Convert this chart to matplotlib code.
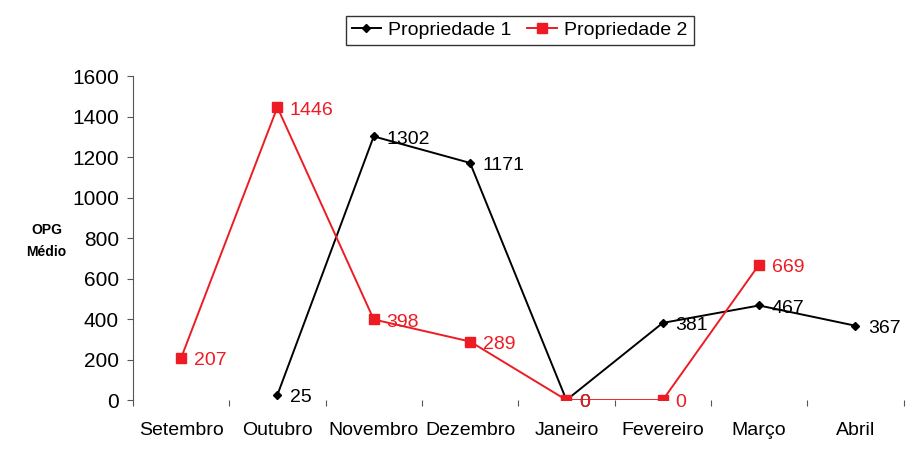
import numpy as np
import matplotlib.pyplot as plt

plt.rcParams['font.family'] = ['Liberation Sans', 'DejaVu Sans']

meses = ['Setembro', 'Outubro', 'Novembro', 'Dezembro', 'Janeiro',
         'Fevereiro', 'Março', 'Abril']
prop1 = [np.nan, 25, 1302, 1171, 0, 381, 467, 367]
prop2 = [207, 1446, 398, 289, 0, 0, 669, np.nan]
yticks = [0, 200, 400, 600, 800, 1000, 1200, 1400, 1600]

red = '#ed1c24'
fig = plt.figure(figsize=(9.1, 4.5), dpi=100)
ax = fig.add_axes([0.146, 0.111, 0.847, 0.72])

x = np.arange(len(meses))
ax.plot(x, prop1, color='black', lw=1.4, marker='D', ms=4.5,
        label='Propriedade 1', zorder=3)
ax.plot(x, prop2, color=red, lw=1.4, marker='s', ms=6.5,
        label='Propriedade 2', zorder=4)

# rotulos dos pontos
for xi, v in zip(x, prop1):
    if not np.isnan(v):
        ax.annotate('%d' % v, (xi, v), xytext=(9, -2), textcoords='offset points',
                    va='center', ha='left', fontsize=14, color='black', zorder=5)
for xi, v in zip(x, prop2):
    if not np.isnan(v):
        ax.annotate('%d' % v, (xi, v), xytext=(9, -2), textcoords='offset points',
                    va='center', ha='left', fontsize=14, color=red, zorder=6)

ax.set_xlim(-0.5, len(meses) - 0.5)
ax.set_ylim(0, 1600)
ax.set_yticks(yticks)
ax.tick_params(axis='y', labelsize=15, length=4, width=0.8, color='#555555', pad=6)
ax.set_xticks(x)
ax.set_xticklabels(meses, fontsize=14)
ax.tick_params(axis='x', length=0, pad=16)
ax.set_xticks(np.arange(len(meses) + 1) - 0.5, minor=True)
ax.tick_params(axis='x', which='minor', length=4, width=0.8, color='#555555')

for s in ['top', 'right', 'bottom']:
    ax.spines[s].set_visible(False)
ax.spines['left'].set_color('#555555')
ax.spines['left'].set_linewidth(0.8)

fig.text(0.051, 0.465, 'OPG\nMédio', ha='center', va='center', fontsize=10,
         fontweight='bold', linespacing=1.75)

leg = fig.legend(loc='center', bbox_to_anchor=(0.571, 0.933), ncol=2, fontsize=14,
                 frameon=True, fancybox=False, handlelength=1.5, handletextpad=0.4,
                 columnspacing=0.8, borderpad=0.3)
leg.get_frame().set_edgecolor('black')
leg.get_frame().set_linewidth(1.0)

plt.savefig('out.png', dpi=100)
plt.close()
